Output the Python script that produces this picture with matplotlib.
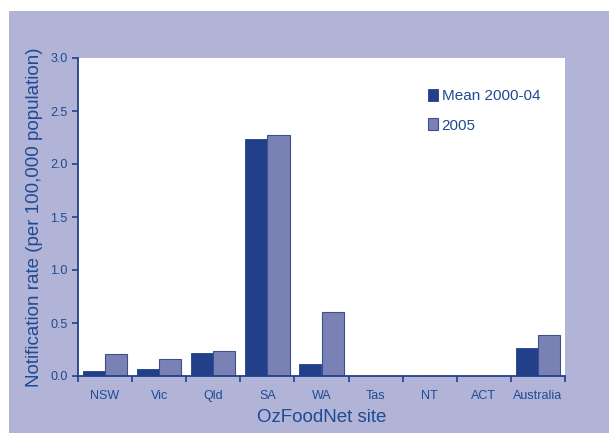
import numpy as np
import matplotlib.pyplot as plt
from matplotlib.patches import Rectangle

sites = ["NSW", "Vic", "Qld", "SA", "WA", "Tas", "NT", "ACT", "Australia"]
mean_2000_04 = [0.05, 0.07, 0.22, 2.24, 0.11, 0, 0, 0, 0.26]
rate_2005 = [0.21, 0.16, 0.235, 2.27, 0.60, 0, 0, 0, 0.39]

dark = "#22408a"
light = "#7a81b5"
txt = "#1f4a94"
bg = "#b1b4d6"

plt.rcParams["font.family"] = ["Liberation Sans", "DejaVu Sans"]

fig = plt.figure(figsize=(6.09, 4.33), dpi=100, facecolor="white")
fig.patches.append(Rectangle((9 / 609, 0), 1, 1 - 11 / 433, transform=fig.transFigure,
                             facecolor=bg, edgecolor="none", zorder=-10))
ax = fig.add_axes([78 / 609, 1 - 376 / 433, 487 / 609, 318 / 433])
ax.set_facecolor("white")

x = np.arange(len(sites))
w = 0.41
ax.bar(x - w / 2, mean_2000_04, w, color=dark, edgecolor=dark, linewidth=0.6, label="Mean 2000-04")
ax.bar(x + w / 2, rate_2005, w, color=light, edgecolor="#3d4f90", linewidth=0.8, label="2005")

ax.set_xlim(-0.5, len(sites) - 0.5)
ax.set_ylim(0, 3.0)
ax.set_yticks(np.arange(0, 3.01, 0.5))
ax.set_yticklabels([f"{v:.1f}" for v in np.arange(0, 3.01, 0.5)])
ax.set_xticks(x)
ax.set_xticklabels(sites)
ax.set_xticks(np.arange(-0.5, len(sites), 1), minor=True)
ax.tick_params(axis="x", which="major", length=0, pad=10, labelsize=9, labelcolor=txt)
ax.tick_params(axis="x", which="minor", length=4, width=1.2, color=dark, direction="out")
ax.tick_params(axis="y", length=4, width=1.2, color=dark, labelsize=9, labelcolor=txt)

for s in ["top", "right"]:
    ax.spines[s].set_visible(False)
for s in ["left", "bottom"]:
    ax.spines[s].set_color(dark)
    ax.spines[s].set_linewidth(1.3)

ax.set_ylabel("Notification rate (per 100,000 population)", color=txt, fontsize=13.5, labelpad=5)
ax.set_xlabel("OzFoodNet site", color=txt, fontsize=13.5, labelpad=5)

leg = ax.legend(loc="upper left", bbox_to_anchor=(0.69, 0.946), frameon=False, fontsize=11,
                handlelength=0.7, handleheight=0.8, handletextpad=0.2, labelspacing=1.0)
for t in leg.get_texts():
    t.set_color(txt)

fig.savefig("out.png", dpi=100)
